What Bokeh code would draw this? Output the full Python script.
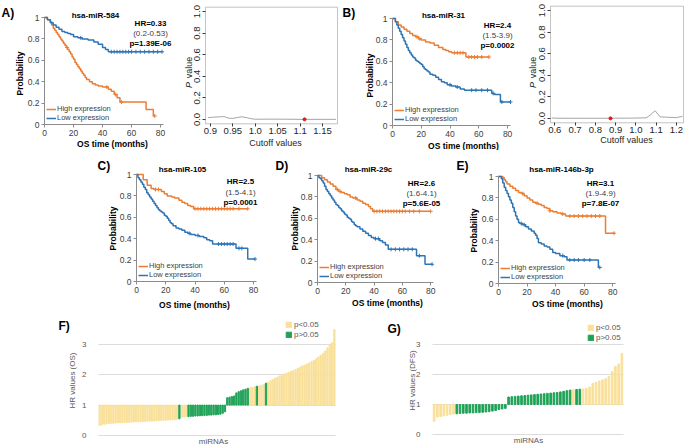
import numpy as np
from bokeh.plotting import figure
from bokeh.layouts import row, column
from bokeh.models import (Label, Legend, LegendItem, FixedTicker, Range1d, NumeralTickFormatter,
                          BoxAnnotation)
from bokeh.embed import file_html
from bokeh.resources import INLINE

FONT = "Liberation Sans"
ORANGE = "#ED7D31"
BLUE = "#2E75B6"
YELLOW = "#F9E09A"
GREEN = "#1FA257"

# ---------------- data ----------------
KM_X_TICKS = [0, 20, 40, 60, 80]
KM_Y_TICKS = [0, 0.2, 0.4, 0.6, 0.8, 1]

# Panel A  hsa-miR-584
A_high_t = [0, 2, 4, 5, 6, 7, 8, 9, 10, 11, 12, 13, 14, 15, 16, 17, 18, 19, 20, 21, 22, 23, 24, 25, 26, 27, 28, 29, 31, 33, 35, 37, 40, 44, 46, 48, 50, 52, 70, 75]
A_high_s = [1, 0.98, 0.96, 0.93, 0.90, 0.88, 0.86, 0.84, 0.82, 0.80, 0.78, 0.76, 0.74, 0.72, 0.70, 0.68, 0.66, 0.63, 0.61, 0.58, 0.56, 0.54, 0.52, 0.50, 0.48, 0.46, 0.44, 0.42, 0.40, 0.38, 0.37, 0.36, 0.35, 0.33, 0.31, 0.28, 0.25, 0.21, 0.14, 0.08]
A_high_end = 76
A_high_cens = [15.5, 43, 49, 53, 76]
A_low_t = [0, 2, 4, 6, 8, 10, 12, 14, 16, 18, 20, 23, 26, 30, 34, 37, 40, 42, 44]
A_low_s = [1, 0.98, 0.95, 0.93, 0.91, 0.89, 0.87, 0.86, 0.85, 0.84, 0.82, 0.81, 0.80, 0.79, 0.77, 0.75, 0.72, 0.70, 0.68]
A_low_end = 81
A_low_cens = [25, 46, 48, 50, 52, 54, 56, 58, 60, 63, 66, 69, 72, 75, 78, 81]

# Panel B  hsa-miR-31
B_high_t = [0, 2, 4, 6, 8, 10, 12, 14, 16, 18, 20, 23, 26, 29, 32, 35, 37, 39, 41, 51]
B_high_s = [1, 0.97, 0.94, 0.92, 0.90, 0.88, 0.86, 0.84, 0.83, 0.81, 0.80, 0.78, 0.77, 0.75, 0.73, 0.71, 0.70, 0.69, 0.68, 0.64]
B_high_end = 67
B_high_cens = [17, 19, 43, 45, 47, 49, 53, 55, 57, 59, 62, 67]
B_low_t = [0, 2, 3, 4, 5, 6, 7, 8, 9, 10, 11, 12, 13, 14, 15, 16, 17, 18, 19, 20, 21, 22, 23, 24, 25, 26, 28, 30, 32, 34, 36, 38, 41, 44, 47, 50, 69, 71, 75]
B_low_s = [1, 0.97, 0.94, 0.91, 0.88, 0.85, 0.82, 0.79, 0.76, 0.73, 0.70, 0.68, 0.66, 0.64, 0.63, 0.61, 0.60, 0.59, 0.58, 0.57, 0.55, 0.53, 0.52, 0.51, 0.50, 0.48, 0.47, 0.45, 0.43, 0.41, 0.40, 0.38, 0.37, 0.36, 0.34, 0.33, 0.30, 0.29, 0.22]
B_low_end = 82
B_low_cens = [40, 45, 55, 58, 62, 66, 70, 76, 82]

# Panel C  hsa-miR-105
C_high_t = [0, 4.6, 7.3, 10, 12, 17, 19, 21, 24, 26, 29, 31, 33, 35, 37, 39]
C_high_s = [1, 0.95, 0.90, 0.87, 0.86, 0.84, 0.82, 0.80, 0.79, 0.78, 0.76, 0.74, 0.73, 0.71, 0.70, 0.68]
C_high_end = 76
C_high_cens = [13, 15, 40, 42, 44, 46, 48, 50, 52, 54, 56, 58, 60, 62, 64, 66, 70, 76]
C_low_t = [0, 1, 2, 3, 4, 5, 6, 7, 8, 9, 10, 11, 12, 13, 14, 15, 16, 17, 18, 19, 20, 21, 22, 23, 24, 25, 27, 29, 31, 33, 35, 37, 40, 43, 46, 48, 50, 52, 68, 76]
C_low_s = [1, 0.97, 0.95, 0.93, 0.91, 0.88, 0.86, 0.83, 0.81, 0.79, 0.77, 0.75, 0.73, 0.71, 0.69, 0.67, 0.66, 0.65, 0.64, 0.62, 0.61, 0.59, 0.57, 0.55, 0.54, 0.52, 0.50, 0.49, 0.48, 0.46, 0.45, 0.44, 0.43, 0.42, 0.41, 0.39, 0.38, 0.35, 0.31, 0.21]
C_low_end = 81
C_low_cens = [36, 42, 56, 58, 60, 62, 64, 66, 70, 72, 81]

# Panel D  hsa-miR-29c
D_high_t = [0, 3, 5, 7, 9, 11, 13, 15, 17, 19, 21, 23, 25, 28, 30, 32, 34, 36, 37.5, 39]
D_high_s = [1, 0.98, 0.96, 0.94, 0.92, 0.90, 0.87, 0.85, 0.84, 0.83, 0.82, 0.80, 0.79, 0.77, 0.76, 0.74, 0.73, 0.71, 0.69, 0.665]
D_high_end = 80
D_high_cens = [14, 16, 27, 40, 42, 44, 46, 48, 50, 52, 54, 56, 58, 60, 62, 65, 68, 72, 80]
D_low_t = [0, 1, 2, 3, 4, 5, 6, 7, 8, 9, 10, 11, 12, 13, 14, 15, 16, 17, 18, 19, 20, 21, 22, 23, 24, 25, 26, 27, 28, 30, 32, 34, 36, 38, 40, 44, 46, 48, 50, 70, 76]
D_low_s = [1, 0.98, 0.97, 0.95, 0.93, 0.90, 0.87, 0.85, 0.83, 0.81, 0.79, 0.77, 0.75, 0.73, 0.72, 0.70, 0.69, 0.67, 0.66, 0.64, 0.63, 0.61, 0.60, 0.59, 0.57, 0.56, 0.54, 0.53, 0.52, 0.50, 0.48, 0.46, 0.44, 0.42, 0.41, 0.39, 0.375, 0.35, 0.31, 0.25, 0.17]
D_low_end = 81
D_low_cens = [41, 43, 52, 55, 58, 61, 64, 67, 72, 81]

# Panel E  hsa-miR-146b-3p
E_high_t = [0, 3, 4, 5, 6, 8, 10, 12, 14, 16, 18, 20, 22, 24, 26, 28, 30, 32, 34, 36, 38, 41, 44, 47, 75]
E_high_s = [1, 0.99, 0.97, 0.95, 0.93, 0.91, 0.89, 0.87, 0.85, 0.84, 0.82, 0.80, 0.78, 0.76, 0.75, 0.74, 0.73, 0.71, 0.70, 0.68, 0.67, 0.66, 0.65, 0.63, 0.47]
E_high_end = 81
E_high_cens = [17, 27, 36, 45, 50, 53, 56, 59, 62, 65, 68, 71, 81]
E_low_t = [0, 2, 3, 4, 5, 6, 7, 8, 9, 10, 11, 12, 13, 14, 15, 17, 19, 21, 23, 25, 26, 27, 28, 30, 32, 34, 36, 38, 40, 43, 46, 48, 70]
E_low_s = [1, 0.98, 0.94, 0.90, 0.87, 0.84, 0.81, 0.78, 0.75, 0.71, 0.67, 0.63, 0.60, 0.57, 0.56, 0.55, 0.53, 0.51, 0.49, 0.47, 0.45, 0.42, 0.38, 0.37, 0.35, 0.34, 0.32, 0.29, 0.28, 0.26, 0.25, 0.22, 0.15]
E_low_end = 71
E_low_cens = [16, 18, 45, 50, 53, 56, 60, 64, 71]

# P value vs cutoff (panels A and B)
A_cut = [0.895, 0.905, 0.915, 0.925, 0.93, 0.94, 0.95, 0.96, 0.97, 0.98, 0.99, 1.0, 1.02, 1.05, 1.08, 1.1, 1.12, 1.15, 1.18]
A_pval = [0.018, 0.02, 0.024, 0.025, 0.028, 0.012, 0.01, 0.018, 0.025, 0.018, 0.008, 0.002, 0.003, 0.003, 0.002, 0.001, 0.001, 0.001, 0.001]
A_best = (1.11, 0.001)
A_cut_ticks = [0.9, 0.95, 1.0, 1.05, 1.1, 1.15]
B_cut = [0.585, 0.6, 0.65, 0.7, 0.75, 0.8, 0.85, 0.9, 0.95, 1.0, 1.05, 1.07, 1.095, 1.12, 1.15, 1.2, 1.23]
B_pval = [0.005, 0.003, 0.002, 0.002, 0.002, 0.002, 0.002, 0.003, 0.003, 0.004, 0.006, 0.03, 0.072, 0.015, 0.012, 0.008, 0.02]
B_best = (0.875, 0.001)
B_cut_ticks = [0.6, 0.7, 0.8, 0.9, 1.0, 1.1, 1.2]
P_Y_TICKS = [0, 0.2, 0.4, 0.6, 0.8, 1.0]

# HR bar charts: (significant p<0.05, HR values)
F_SEGMENTS = [
    (True, [0.33, 0.35, 0.37, 0.38, 0.39, 0.40, 0.40, 0.41, 0.41, 0.42, 0.42, 0.43, 0.43, 0.43, 0.44, 0.44, 0.45, 0.45, 0.45, 0.46, 0.46, 0.47, 0.47, 0.47, 0.48, 0.48, 0.49, 0.49, 0.50, 0.50, 0.51, 0.51, 0.52, 0.52, 0.53]),
    (False, [0.55]),
    (True, [0.60, 0.61, 0.62]),
    (False, [0.62, 0.63, 0.63, 0.64, 0.64, 0.65, 0.65, 0.66, 0.66, 0.67, 0.67, 0.68, 0.68, 0.69, 0.70, 0.73, 0.78]),
    (False, [1.24, 1.26, 1.28, 1.30, 1.40, 1.44, 1.47, 1.50, 1.52, 1.55]),
    (True, [1.57, 1.58, 1.60]),
    (False, [1.62]),
    (True, [1.63, 1.65, 1.68]),
    (False, [1.72]),
    (True, [1.75, 1.80, 1.84, 1.88, 1.92, 1.96, 1.99, 2.02, 2.05, 2.08, 2.11, 2.14, 2.17, 2.21, 2.25, 2.29, 2.32, 2.35, 2.39, 2.43, 2.47, 2.52, 2.58, 2.64, 2.70, 2.78, 2.88, 3.00, 3.05, 3.48]),
]
G_SEGMENTS = [
    (True, [0.44, 0.58, 0.60, 0.62, 0.64, 0.66, 0.68]),
    (False, [0.69, 0.70, 0.71, 0.71, 0.72, 0.72, 0.73, 0.73, 0.74, 0.75, 0.76, 0.78, 0.80, 0.83, 0.85, 0.87]),
    (False, [1.25, 1.26, 1.27, 1.28, 1.29, 1.30, 1.31, 1.32, 1.33, 1.34, 1.35, 1.36, 1.37, 1.38, 1.39, 1.40, 1.42, 1.44, 1.46, 1.48]),
    (True, [1.49]),
    (False, [1.50, 1.51]),
    (True, [1.52, 1.54, 1.58, 1.70, 1.74, 1.78, 1.82, 1.86, 1.93, 2.10, 2.27, 2.35, 2.70]),
]
HR_TICKS = [0, 1, 2, 3]


# ---------------- helpers ----------------
def base_fig(page_left, page_top, width, height, box, xr, yr):
    """Frame fills the whole figure; `box` (page px) is where xr/yr land."""
    fl, ft, fr, fb = box
    sx = (xr[1] - xr[0]) / (fr - fl)
    sy = (yr[1] - yr[0]) / (fb - ft)
    x_start = xr[0] - (fl - page_left) * sx
    x_end = xr[1] + (page_left + width - fr) * sx
    y_end = yr[1] + (ft - page_top) * sy
    y_start = yr[0] - (page_top + height - fb) * sy
    p = figure(width=width, height=height, x_range=Range1d(x_start, x_end),
               y_range=Range1d(y_start, y_end), title=None,
               output_backend="svg", toolbar_location=None,
               min_border_left=0, min_border_right=0, min_border_top=0, min_border_bottom=0)
    p.outline_line_color = None
    p.xgrid.visible = False
    p.ygrid.visible = False
    p.background_fill_color = "white"
    p.border_fill_color = "white"

    def conv(px, py):
        return xr[0] + (px - fl) * sx, yr[1] - (py - ft) * sy
    return p, conv


def txt(p, conv, px, py, text, size="8px", style="normal", color="#000000", align="center", angle=0.0):
    x, y = conv(px, py)
    p.add_layout(Label(x=x, y=y, text=text, text_font=FONT, text_font_size=size,
                       text_font_style=style, text_color=color, text_align=align,
                       text_baseline="middle", angle=angle))


def km_panel(page_left, page_top, width, height, box, letter, letter_xy, title, title_xy,
             hr_texts, hr_x, hr_ys, prob_xy, os_xy, high, low):
    p, conv = base_fig(page_left, page_top, width, height, box, (0, 82), (0, 1))
    rends = []
    for (t, s, end, cens), col in ((high, ORANGE), (low, BLUE)):
        xs = list(t) + [end]
        ys = list(s) + [s[-1]]
        r = p.step(xs, ys, mode="after", line_color=col, line_width=1.5)
        rends.append(r)
        ta = np.array(t, dtype=float)
        idx = np.searchsorted(ta, np.array(cens, dtype=float), side="right") - 1
        cy = [s[i] for i in idx]
        p.scatter(cens, cy, marker="cross", size=4, line_color=col, line_width=1)
    for ax in (p.xaxis[0], p.yaxis[0]):
        ax.fixed_location = 0
        ax.axis_line_color = "#8C8C8C"
        ax.major_tick_line_color = "#8C8C8C"
        ax.major_tick_out = 3
        ax.major_tick_in = 0
        ax.minor_tick_line_color = None
        ax.major_label_text_font = FONT
        ax.major_label_text_font_size = "8.5px"
        ax.major_label_text_color = "#404040"
        ax.major_label_standoff = 2
    p.xaxis.bounds = (0, 82)
    p.yaxis.bounds = (0, 1)
    p.xaxis.ticker = FixedTicker(ticks=KM_X_TICKS)
    p.yaxis.ticker = FixedTicker(ticks=KM_Y_TICKS)
    p.yaxis.formatter = NumeralTickFormatter(format="0.[0]")
    fl, ft, fr, fb = box
    leg = Legend(items=[LegendItem(label="High expression", renderers=[rends[0]]),
                        LegendItem(label="Low expression", renderers=[rends[1]])],
                 location=(fl + 2 - page_left, page_top + height - (fb - 2)),
                 glyph_width=10, glyph_height=8, label_height=8,
                 label_standoff=1, spacing=0, padding=0, margin=0,
                 label_text_font=FONT, label_text_font_size="7.5px", label_text_color="#404040",
                 border_line_color=None, background_fill_alpha=0)
    p.add_layout(leg)
    txt(p, conv, letter_xy[0], letter_xy[1], letter, size="12px", style="bold", align="left")
    txt(p, conv, title_xy[0], title_xy[1], title, size="8px", style="bold")
    for (text, bold), y in zip(hr_texts, hr_ys):
        txt(p, conv, hr_x, y, text, size="8px", style="bold" if bold else "normal",
            color="#000000" if bold else "#404040")
    txt(p, conv, prob_xy[0], prob_xy[1], "Probability", size="8.5px", style="bold", angle=np.pi / 2)
    txt(p, conv, os_xy[0], os_xy[1], "OS time (months)", size="8.5px", style="bold")
    return p


def pval_panel(page_left, page_top, width, height, box, xr, ticks, fmt, cut, pv, best, p_x, cut_xy):
    yr = (-0.04, 1.04)
    p, conv = base_fig(page_left, page_top, width, height, box, xr, yr)
    p.add_layout(BoxAnnotation(left=xr[0], right=xr[1], bottom=yr[0], top=yr[1],
                               fill_color=None, fill_alpha=0, line_color="#3A3A3A", line_width=1))
    p.line(cut, pv, line_color="#8E8E8E", line_width=0.8)
    p.scatter([best[0]], [best[1]], marker="circle", size=3, color="#E3161B")
    for ax in (p.xaxis[0], p.yaxis[0]):
        ax.axis_line_color = None
        ax.major_tick_line_color = "#3A3A3A"
        ax.major_tick_out = 3
        ax.major_tick_in = 0
        ax.minor_tick_line_color = None
        ax.major_label_text_font = FONT
        ax.major_label_text_font_size = "9.5px"
        ax.major_label_text_color = "#262626"
    p.xaxis.fixed_location = yr[0]
    p.yaxis.fixed_location = xr[0]
    p.xaxis.major_label_standoff = 1
    p.yaxis.major_label_standoff = 2
    p.xaxis.ticker = FixedTicker(ticks=ticks)
    p.xaxis.formatter = NumeralTickFormatter(format=fmt)
    p.yaxis.ticker = FixedTicker(ticks=P_Y_TICKS)
    p.yaxis.formatter = NumeralTickFormatter(format="0.0")
    p.yaxis.major_label_orientation = "parallel"
    txt(p, conv, p_x, 84.5, "P", size="9px", style="italic", color="#262626", angle=np.pi / 2)
    txt(p, conv, p_x, 67, "value", size="9px", color="#262626", angle=np.pi / 2)
    txt(p, conv, cut_xy[0], cut_xy[1], "Cutoff values", size="9px", color="#262626")
    return p


def hr_panel(page_left, page_top, width, height, box, segments, letter_xy, letter, ylab, ylab_xy,
             mir_xy, leg_xy):
    hr, sig = [], []
    for s, vals in segments:
        hr.extend(vals)
        sig.extend([s] * len(vals))
    n = len(hr)
    xr = (-0.5, n - 0.5)
    p, conv = base_fig(page_left, page_top, width, height, box, xr, (0, 3.5667))
    x = np.arange(n)
    hr = np.array(hr)
    sig = np.array(sig)
    grid_done = False
    try:
        p.ygrid.cross_bounds = xr
        p.ygrid.visible = True
        p.ygrid.ticker = FixedTicker(ticks=HR_TICKS)
        p.ygrid.grid_line_color = "#DCDCDC"
        p.ygrid.grid_line_width = 1
        grid_done = True
    except AttributeError:
        p.ygrid.visible = False
    if not grid_done:
        p.segment(x0=[xr[0]] * len(HR_TICKS), x1=[xr[1]] * len(HR_TICKS), y0=HR_TICKS, y1=HR_TICKS,
                  line_color="#DCDCDC", line_width=1, level="underlay")
    bw = 0.55 if n > 80 else 0.5
    ry = p.vbar(x=x[sig], width=bw, bottom=1, top=hr[sig], color=YELLOW)
    rg = p.vbar(x=x[~sig], width=bw, bottom=1, top=hr[~sig], color=GREEN)
    p.xaxis.visible = False
    ya = p.yaxis[0]
    ya.fixed_location = xr[0]
    ya.ticker = FixedTicker(ticks=HR_TICKS)
    ya.axis_line_color = None
    ya.major_tick_line_color = None
    ya.minor_tick_line_color = None
    ya.major_label_text_font = FONT
    ya.major_label_text_font_size = "8px"
    ya.major_label_text_color = "#595959"
    ya.major_label_standoff = 6
    leg = Legend(items=[LegendItem(label="p<0.05", renderers=[ry]),
                        LegendItem(label="p>0.05", renderers=[rg])],
                 location=(leg_xy[0] - page_left, page_top + height - leg_xy[1]),
                 glyph_width=7, glyph_height=7, label_height=10,
                 label_standoff=2, spacing=0, padding=0, margin=0,
                 label_text_font=FONT, label_text_font_size="8px", label_text_color="#595959",
                 border_line_color=None, background_fill_alpha=0)
    p.add_layout(leg)
    txt(p, conv, letter_xy[0], letter_xy[1], letter, size="12px", style="bold", align="left")
    txt(p, conv, ylab_xy[0], ylab_xy[1], ylab, size="8px", color="#595959", angle=np.pi / 2)
    txt(p, conv, mir_xy[0], mir_xy[1], "miRNAs", size="8px", color="#595959")
    return p


# ---------------- panels ----------------
pA = km_panel(0, 0, 180, 150, (44, 17, 163, 124), "A)", (1, 12), "hsa-miR-584", (95, 15),
              [("HR=0.33", True), ("(0.2-0.53)", False), ("p=1.39E-06", True)], 150, [23, 33, 43],
              (19, 73), (112, 143),
              (A_high_t, A_high_s, A_high_end, A_high_cens), (A_low_t, A_low_s, A_low_end, A_low_cens))
pApv = pval_panel(180, 0, 160, 150, (205, 6.7, 337, 123.3), (0.889, 1.1835), A_cut_ticks, "0.0[0]",
                  A_cut, A_pval, A_best, 188, (275, 142))
pB = km_panel(340, 0, 180, 150, (392, 18, 510, 125), "B)", (342, 12), "hsa-miR-31", (443, 15),
              [("HR=2.4", True), ("(1.5-3.9)", False), ("p=0.0002", True)], 497, [25, 35, 45],
              (369, 75), (463, 145),
              (B_high_t, B_high_s, B_high_end, B_high_cens), (B_low_t, B_low_s, B_low_end, B_low_cens))
pBpv = pval_panel(520, 0, 165, 150, (550, 5.7, 683, 122.3), (0.579, 1.235), B_cut_ticks, "0.0",
                  B_cut, B_pval, B_best, 532, (626, 139))

pC = km_panel(0, 150, 270, 160, (136, 174, 256, 281), "C)", (97, 165), "hsa-miR-105", (182, 169),
              [("HR=2.5", True), ("(1.5-4.1)", False), ("p=0.0001", True)], 240, [181, 192, 202],
              (112, 228), (194, 304),
              (C_high_t, C_high_s, C_high_end, C_high_cens), (C_low_t, C_low_s, C_low_end, C_low_cens))
pD = km_panel(270, 150, 185, 160, (317, 175, 433, 282), "D)", (275, 165), "hsa-miR-29c", (368, 169),
              [("HR=2.6", True), ("(1.6-4.1)", False), ("p=5.6E-05", True)], 421, [183, 193, 203],
              (294, 228), (387, 302),
              (D_high_t, D_high_s, D_high_end, D_high_cens), (D_low_t, D_low_s, D_low_end, D_low_cens))
pE = km_panel(455, 150, 230, 160, (498, 176, 615, 283), "E)", (456, 165), "hsa-miR-146b-3p", (561, 169),
              [("HR=3.1", True), ("(1.9-4.9)", False), ("p=7.8E-07", True)], 600, [183, 193, 203],
              (473, 230), (567, 303),
              (E_high_t, E_high_s, E_high_end, E_high_cens), (E_low_t, E_low_s, E_low_end, E_low_cens))

pF = hr_panel(0, 310, 380, 136, (98, 326.5, 335, 435), F_SEGMENTS, (58, 325), "F)",
              "HR values (OS)", (72, 380), (213, 441), (285, 339))
pG = hr_panel(380, 310, 305, 136, (432, 327, 623, 434), G_SEGMENTS, (387, 328), "G)",
              "HR values (DFS)", (412, 380), (528, 440), (587, 342))

layout = column(row(pA, pApv, pB, pBpv), row(pC, pD, pE), row(pF, pG))

open("out.html", "w").write(file_html(layout, INLINE))
